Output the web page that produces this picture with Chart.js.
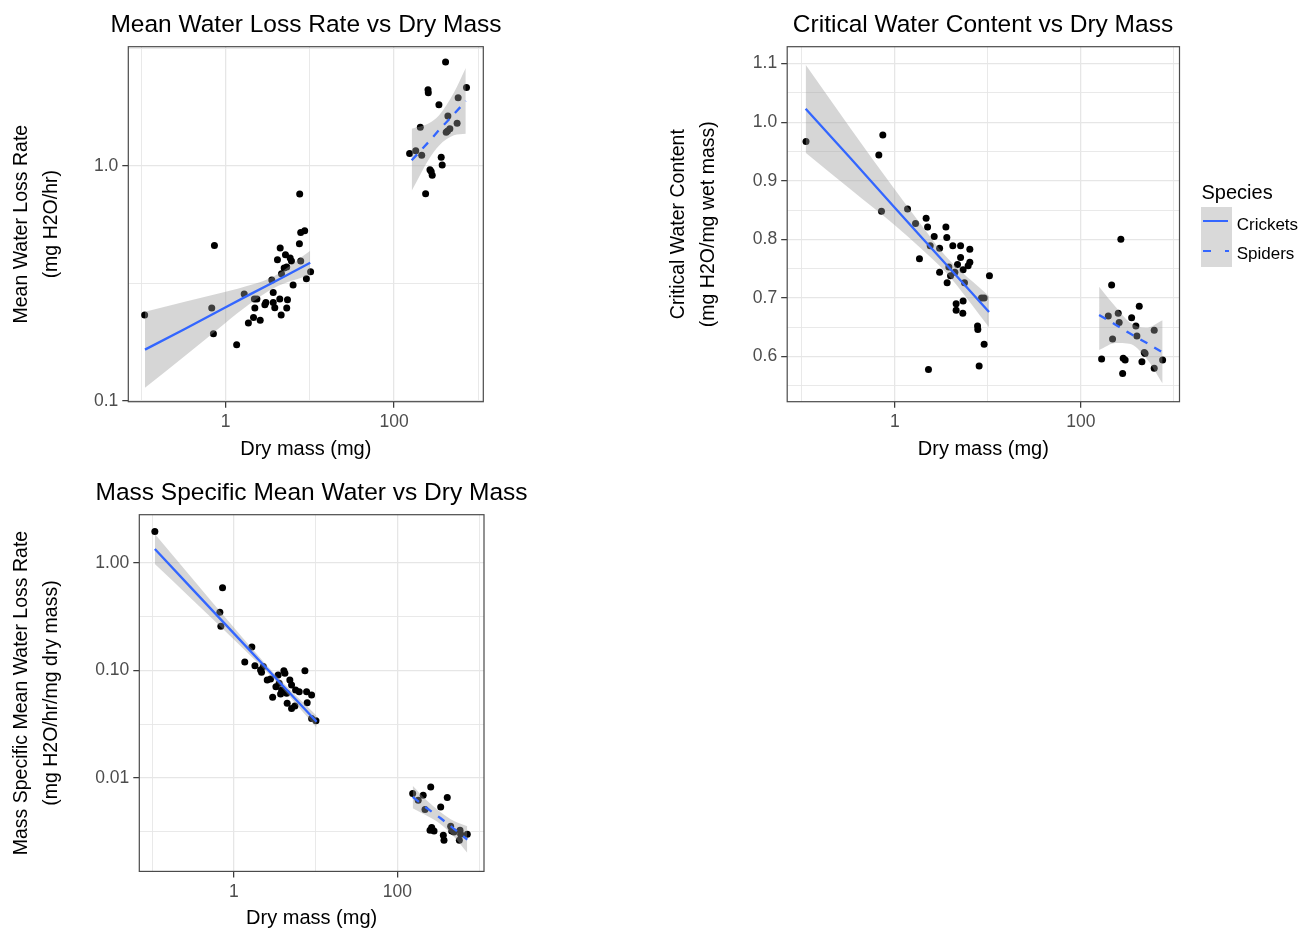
<!DOCTYPE html>
<html>
<head>
<meta charset="utf-8">
<title>Water loss vs dry mass</title>
<script src="https://cdn.jsdelivr.net/npm/chart.js@4.4.1/dist/chart.umd.min.js"></script>
<style>
  html, body { margin: 0; padding: 0; background: #fff; }
  body { width: 1312px; height: 930px; position: relative; overflow: hidden;
         font-family: "Liberation Sans", Arial, sans-serif; }
  canvas { position: absolute; }
  .legend-text { position: absolute; line-height: 1; color: #000; white-space: nowrap; }
  .key { position: absolute; }
</style>
</head>
<body>
<canvas id="lossChart" width="612" height="470" style="left:0;top:0"></canvas>
<canvas id="cwcChart" width="652" height="470" style="left:656.5px;top:0"></canvas>
<canvas id="specChart" width="623" height="470" style="left:0;top:468.3px"></canvas>

<!-- Species legend (panel 2) -->
<div class="legend-text" style="left:1201.5px;top:182.4px;font-size:20px">Species</div>
<div class="key" style="left:1201px;top:206.7px;width:30.7px;height:60.7px;background:#d9d9d9"></div>
<div class="key" style="left:1203.3px;top:220px;width:25px;height:2.2px;background:#3366ff"></div>
<div class="key" style="left:1203.3px;top:249.6px;width:8px;height:2.2px;background:#3366ff"></div>
<div class="key" style="left:1224.5px;top:249.6px;width:4px;height:2.2px;background:#3366ff"></div>
<div class="legend-text" style="left:1236.7px;top:215.6px;font-size:17px">Crickets</div>
<div class="legend-text" style="left:1236.7px;top:244.6px;font-size:17px">Spiders</div>

<script>
// ---------- data ----------
// Panel A: mean water loss rate (mg H2O/hr)
const cricketMassA = [0.109, 0.735, 0.683, 0.715, 1.35, 1.66, 1.86, 2.14, 2.57, 2.22, 2.35, 2.19, 2.92, 3.00,
  3.67, 3.53, 3.67, 3.83, 4.39, 4.56, 5.31, 5.42, 6.32, 4.12, 4.44, 5.13, 5.83, 6.04, 4.95, 5.31, 4.60,
  7.78, 7.51, 7.78, 8.68, 7.57, 9.09, 10.2];
const cricketLossA = [0.232, 0.458, 0.248, 0.193, 0.173, 0.285, 0.214, 0.226, 0.220, 0.248, 0.271, 0.271, 0.256, 0.262,
  0.289, 0.327, 0.262, 0.249, 0.271, 0.232, 0.248, 0.269, 0.311, 0.398, 0.447, 0.418, 0.405, 0.394, 0.367, 0.371, 0.347,
  0.394, 0.466, 0.520, 0.529, 0.760, 0.331, 0.354];
const spiderMassA = [409, 725, 577, 253, 255, 341, 436, 561, 460, 432, 416, 205, 153, 181, 213, 363, 373, 267, 284, 237, 276];
const spiderLossA = [2.77, 2.16, 1.95, 2.11, 2.05, 1.82, 1.63, 1.52, 1.44, 1.41, 1.39, 1.46, 1.13, 1.16, 1.11, 1.09,
  1.01, 0.964, 0.913, 0.762, 0.946];
// linear fit and its band, read at a few masses
const cricketFitMassA = [0.110, 0.327, 1.0, 1.92, 3.80, 10.1];
const cricketFitA = [0.165, 0.202, 0.250, 0.283, 0.321, 0.387];
const cricketLowA = [0.1136, 0.155, 0.215, 0.258, 0.303, 0.344];
const cricketHighA = [0.239, 0.264, 0.291, 0.310, 0.340, 0.435];
const spiderFitMassA = [162, 260, 341, 513, 711];
const spiderFitA = [1.057, 1.27, 1.42, 1.66, 1.89];
const spiderLowA = [0.783, 1.07, 1.22, 1.35, 1.37];
const spiderHighA = [1.44, 1.52, 1.64, 2.05, 2.61];

// Panel B: critical water content (mg H2O/mg wet mass)
const cricketMassB = [0.111, 0.743, 0.673, 0.719, 1.37, 1.67, 2.17, 2.25, 2.65, 3.54, 3.62, 2.40, 3.03, 1.84, 4.20,
  5.09, 6.40, 5.09, 6.40, 6.14, 4.72, 5.42, 3.81, 3.03, 4.42, 3.97, 3.65, 5.61, 10.4, 8.55, 9.12, 5.42, 4.56,
  4.56, 5.38, 7.75, 7.80, 9.12, 8.06, 2.30];
const cricketCwcB = [0.967, 0.978, 0.944, 0.848, 0.852, 0.827, 0.836, 0.821, 0.805, 0.821, 0.803, 0.789, 0.785, 0.767, 0.789,
  0.789, 0.783, 0.769, 0.761, 0.755, 0.757, 0.748, 0.753, 0.744, 0.744, 0.738, 0.726, 0.726, 0.738, 0.700, 0.700, 0.695, 0.690,
  0.679, 0.674, 0.652, 0.646, 0.621, 0.584, 0.578];
const spiderMassB = [269, 214, 424, 197, 252, 351, 258, 390, 614, 400, 219, 480, 167, 285, 299, 453, 756, 614, 281, 490];
const spiderCwcB = [0.800, 0.722, 0.686, 0.669, 0.674, 0.666, 0.658, 0.652, 0.645, 0.635, 0.630, 0.607, 0.596, 0.597,
  0.594, 0.591, 0.594, 0.580, 0.571, 0.605];
const cricketFitMassB = [0.110, 0.336, 1.0, 1.90, 3.53, 10.3];
const cricketFitB = [1.023, 0.938, 0.854, 0.805, 0.758, 0.676];
const cricketLowB = [0.948, 0.885, 0.824, 0.785, 0.744, 0.650];
const cricketHighB = [1.098, 0.989, 0.885, 0.826, 0.771, 0.703];
const spiderFitMassB = [157, 238, 331, 500, 756];
const spiderFitB = [0.671, 0.654, 0.640, 0.624, 0.607];
const spiderLowB = [0.611, 0.623, 0.622, 0.598, 0.554];
const spiderHighB = [0.719, 0.684, 0.659, 0.649, 0.662];

// Panel C: mass specific water loss rate (mg H2O/hr/mg dry mass)
const cricketMassC = [0.108, 0.727, 0.674, 0.693, 1.66, 1.36, 1.81, 2.12, 2.29, 2.18, 2.56, 2.81, 2.98, 3.48, 4.09,
  4.21, 3.58, 3.84, 4.42, 4.84, 5.08, 5.69, 6.30, 4.49, 5.08, 5.58, 7.40, 7.76, 8.93, 7.89, 8.93, 10.1, 3.27, 3.73];
const cricketSpecC = [1.97, 0.589, 0.349, 0.259, 0.166, 0.120, 0.111, 0.101, 0.109, 0.0964, 0.0817, 0.0835, 0.0564, 0.091,
  0.0998, 0.0944, 0.0762, 0.0659, 0.0614, 0.0817, 0.0734, 0.0659, 0.0636, 0.0496, 0.0445, 0.0468, 0.0998, 0.0636, 0.0593,
  0.0502, 0.0359, 0.0341, 0.0708, 0.0605];
const spiderMassC = [154, 207, 256, 180, 408, 339, 218, 263, 251, 281, 365, 372, 449, 462, 493, 584, 595, 717, 573];
const spiderSpecC = [0.00718, 0.00693, 0.00828, 0.00622, 0.00659, 0.00539, 0.00510, 0.00347, 0.00327, 0.00322, 0.00294,
  0.00264, 0.00356, 0.00322, 0.00315, 0.00327, 0.00300, 0.00300, 0.00264];
const cricketFitMassC = [0.108, 0.289, 1.0, 3.18, 10.3];
const cricketFitC = [1.35, 0.607, 0.222, 0.0868, 0.0334];
const cricketLowC = [0.979, 0.481, 0.195, 0.0814, 0.0294];
const cricketHighC = [1.86, 0.765, 0.251, 0.0925, 0.0380];
const spiderFitMassC = [154, 224, 339, 493, 717];
const spiderFitC = [0.00668, 0.00532, 0.00423, 0.00337, 0.00268];
const spiderLowC = [0.00524, 0.00450, 0.00372, 0.00285, 0.00202];
const spiderHighC = [0.00850, 0.00629, 0.00481, 0.00398, 0.00356];

// Axis breaks (empty label = minor grid line only)
const massTicks = [0.1, 1, 10, 100, 1000];
const massLabels = ["", "1", "", "100", ""];
const lossTicks = [0.1, 0.3162, 1, 3.162];
const lossLabels = ["0.1", "", "1.0", ""];
const cwcTicks = [0.55, 0.6, 0.65, 0.7, 0.75, 0.8, 0.85, 0.9, 0.95, 1.0, 1.05, 1.1];
const cwcLabels = ["", "0.6", "", "0.7", "", "0.8", "", "0.9", "", "1.0", "", "1.1"];
const specTicks = [0.003162, 0.01, 0.03162, 0.1, 0.3162, 1];
const specLabels = ["", "0.01", "", "0.10", "", "1.00"];

// ---------- drawing ----------
const BLUE = "#3366ff";
const BAND = "rgba(153,153,153,0.4)";
Chart.defaults.font.family = "'Liberation Sans', Arial, sans-serif";

const pts = (xs, ys) => xs.map((x, i) => ({ x, y: ys[i] }));

// ggplot-like panel border, drawn over the data
const panelBorder = {
  id: "panelBorder",
  afterDatasetsDraw(chart) {
    const { ctx, chartArea: a } = chart;
    ctx.save();
    ctx.strokeStyle = "#4a4a4a";
    ctx.lineWidth = 1.2;
    ctx.strokeRect(a.left, a.top, a.right - a.left, a.bottom - a.top);
    ctx.restore();
  },
};

function gridFor(labels) {
  return {
    color: "#e6e6e6",
    lineWidth: (c) => (labels[c.index] ? 1.3 : 0.9),
    tickColor: (c) => (labels[c.index] ? "#333333" : "rgba(0,0,0,0)"),
    tickWidth: 1.2,
    tickLength: 6,
  };
}

function fitSets(xs, mid, lo, hi, dash) {
  const band = { type: "line", borderWidth: 0, borderColor: "transparent", pointRadius: 0,
    cubicInterpolationMode: "monotone", order: 2 };
  return [
    { ...band, data: pts(xs, hi), fill: "+1", backgroundColor: BAND },
    { ...band, data: pts(xs, lo), fill: false },
    { type: "line", data: pts(xs, mid), borderColor: BLUE, borderWidth: 2.3, borderDash: dash,
      borderCapStyle: "butt", pointRadius: 0, fill: false, tension: 0, order: 1 },
  ];
}

function dots(xs, ys) {
  return { type: "scatter", data: pts(xs, ys), pointRadius: 3.5, pointBackgroundColor: "#000",
    pointBorderWidth: 0, order: 3 };
}

function makeChart(id, p) {
  new Chart(document.getElementById(id), {
    type: "scatter",
    data: {
      datasets: [
        dots(p.cricketX, p.cricketY),
        dots(p.spiderX, p.spiderY),
        ...fitSets(p.cFit[0], p.cFit[1], p.cFit[2], p.cFit[3], []),
        ...fitSets(p.sFit[0], p.sFit[1], p.sFit[2], p.sFit[3], [8, 8]),
      ],
    },
    options: {
      responsive: false,
      animation: false,
      events: [],
      layout: { padding: 0 },
      plugins: {
        legend: { display: false },
        tooltip: { enabled: false },
        title: {
          display: true, text: p.title, color: "#000",
          font: { size: 24.5, weight: "normal" }, padding: { top: 10.3, bottom: 7.0 },
        },
      },
      scales: {
        x: {
          type: "logarithmic", position: "bottom", min: 0.0697, max: 1148,
          afterBuildTicks: (s) => { s.ticks = massTicks.map((v) => ({ value: v })); },
          afterFit: (s) => { s.height = p.xHeight; },
          ticks: { autoSkip: false, maxRotation: 0, padding: 4, color: "#4d4d4d",
            font: { size: 17.5 }, callback: (v, i) => massLabels[i] },
          grid: gridFor(massLabels),
          border: { display: false },
          title: { display: true, text: "Dry mass (mg)", color: "#000", font: { size: 20 },
            padding: { top: 0, bottom: p.xTitlePad } },
        },
        y: {
          type: p.yType, position: "left", min: p.yMin, max: p.yMax,
          afterBuildTicks: (s) => { s.ticks = p.yTicks.map((v) => ({ value: v })); },
          afterFit: (s) => { s.width = p.yWidth; },
          ticks: { autoSkip: false, padding: 4, color: "#4d4d4d", font: { size: 17.5 },
            callback: (v, i) => p.yLabels[i] },
          grid: gridFor(p.yLabels),
          border: { display: false },
          title: { display: true, text: p.yTitle, color: "#000",
            font: { size: 19.5, lineHeight: 1.55 }, padding: { top: p.yTitlePad, bottom: 0 } },
        },
        // empty right-hand spacer so the full-width title centres over the panel
        spacer: {
          type: "linear", position: "right", min: 0, max: 1,
          afterFit: (s) => { s.width = p.padRight; },
          ticks: { display: false }, grid: { display: false }, border: { display: false },
        },
      },
    },
    plugins: [panelBorder],
  });
}

makeChart("lossChart", {
  title: "Mean Water Loss Rate vs Dry Mass",
  yTitle: ["Mean Water Loss Rate", "(mg H2O/hr)"],
  yType: "logarithmic", yMin: 0.099, yMax: 3.22,
  yTicks: lossTicks, yLabels: lossLabels,
  cricketX: cricketMassA, cricketY: cricketLossA,
  spiderX: spiderMassA, spiderY: spiderLossA,
  cFit: [cricketFitMassA, cricketFitA, cricketLowA, cricketHighA],
  sFit: [spiderFitMassA, spiderFitA, spiderLowA, spiderHighA],
  yWidth: 128.3, yTitlePad: 6.4, padRight: 128.7, xHeight: 68.3, xTitlePad: 8.8,
});

makeChart("cwcChart", {
  title: "Critical Water Content vs Dry Mass",
  yTitle: ["Critical Water Content", "(mg H2O/mg wet mass)"],
  yType: "linear", yMin: 0.5229, yMax: 1.1289,
  yTicks: cwcTicks, yLabels: cwcLabels,
  cricketX: cricketMassB, cricketY: cricketCwcB,
  spiderX: spiderMassB, spiderY: spiderCwcB,
  cFit: [cricketFitMassB, cricketFitB, cricketLowB, cricketHighB],
  sFit: [spiderFitMassB, spiderFitB, spiderLowB, spiderHighB],
  yWidth: 130.2, yTitlePad: 6.6, padRight: 129.5, xHeight: 68.3, xTitlePad: 8.8,
});

makeChart("specChart", {
  title: "Mass Specific Mean Water vs Dry Mass",
  yTitle: ["Mass Specific Mean Water Loss Rate", "(mg H2O/hr/mg dry mass)"],
  yType: "logarithmic", yMin: 0.001355, yMax: 2.818,
  yTicks: specTicks, yLabels: specLabels,
  cricketX: cricketMassC, cricketY: cricketSpecC,
  spiderX: spiderMassC, spiderY: spiderSpecC,
  cFit: [cricketFitMassC, cricketFitC, cricketLowC, cricketHighC],
  sFit: [spiderFitMassC, spiderFitC, spiderLowC, spiderHighC],
  yWidth: 139.3, yTitlePad: 6.4, padRight: 139, xHeight: 66.6, xTitlePad: 7.1,
});
</script>
</body>
</html>
